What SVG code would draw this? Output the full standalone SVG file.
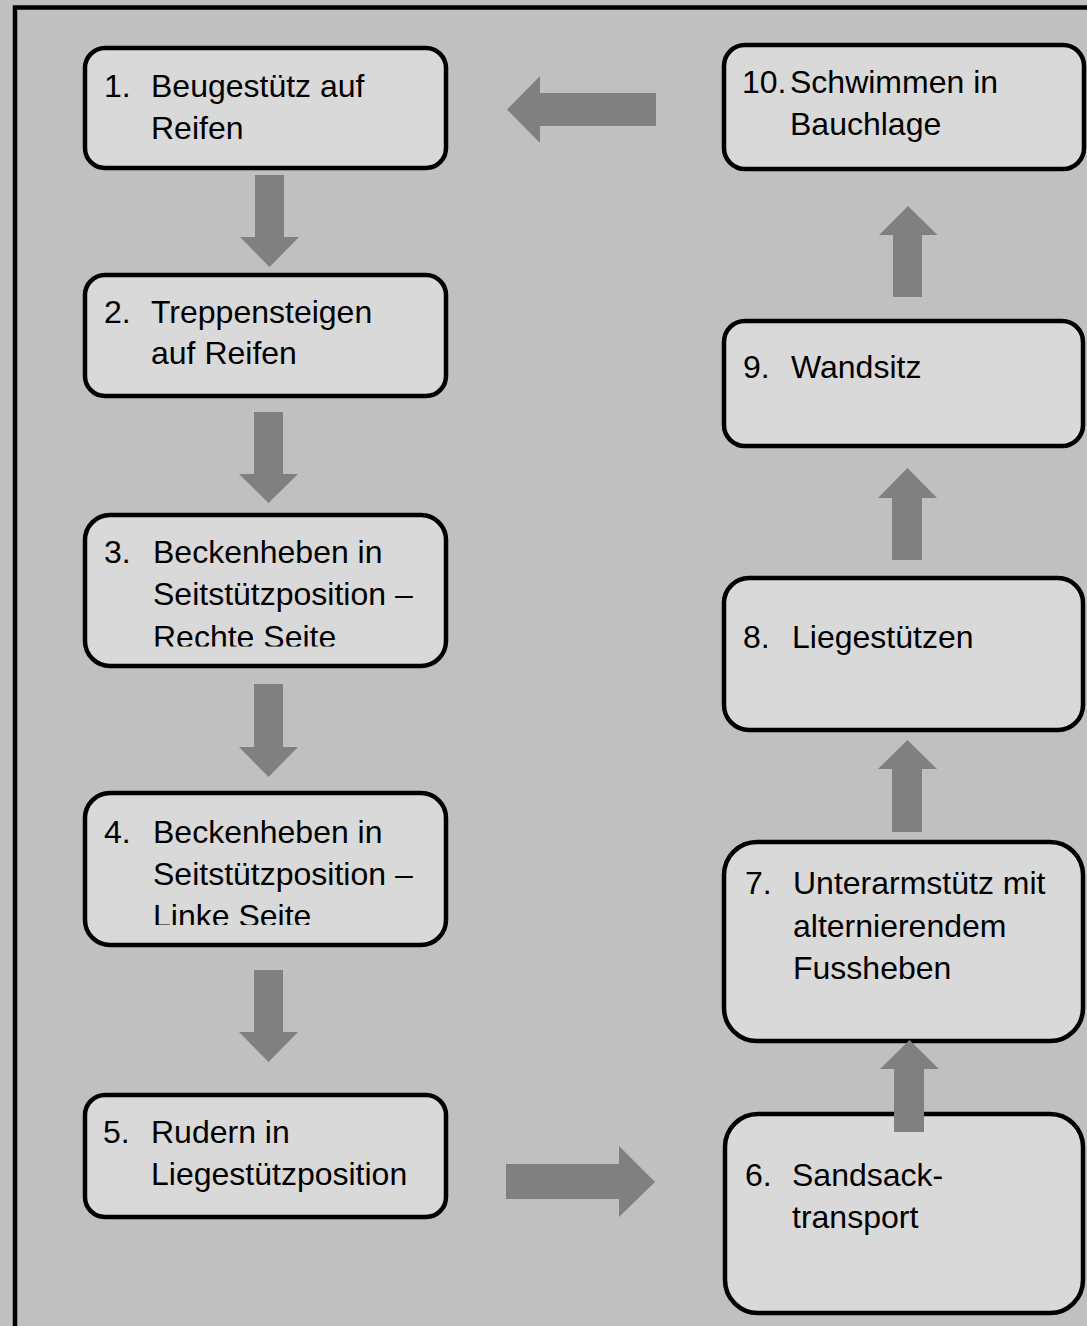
<svg xmlns="http://www.w3.org/2000/svg" width="1087" height="1326" viewBox="0 0 1087 1326">
<style>
.box{fill:#d9d9d9;stroke:#000;stroke-width:4.5}
.t{font-family:"Liberation Sans",Arial,sans-serif;font-size:32px;fill:#000}
.arr{fill:#808080}
</style>
<defs>
<clipPath id="c3"><rect x="80" y="510" width="370" height="136.5"/></clipPath>
<clipPath id="c4"><rect x="80" y="790" width="370" height="135"/></clipPath>
</defs>
<rect x="0" y="0" width="1087" height="1326" fill="#c0c0c0"/>
<rect x="15" y="7.5" width="1100" height="1350" fill="#c0c0c0" stroke="#000" stroke-width="4.5"/>
<g id="n1"><rect class="box" x="85" y="48" width="361" height="120" rx="20"/>
<text class="t" x="104" y="97">1.</text><text class="t" x="151" y="97">Beugestütz auf</text><text class="t" x="151" y="139">Reifen</text></g>
<g id="n2"><rect class="box" x="85" y="275" width="361" height="121" rx="20"/>
<text class="t" x="104" y="323">2.</text><text class="t" x="151" y="323">Treppensteigen</text><text class="t" x="151" y="364">auf Reifen</text></g>
<g id="n3"><rect class="box" x="85" y="515" width="361" height="151" rx="25"/>
<g clip-path="url(#c3)"><text class="t" x="104" y="563">3.</text><text class="t" x="153" y="563">Beckenheben in</text><text class="t" x="153" y="605">Seitstützposition –</text><text class="t" x="153" y="648">Rechte Seite</text></g></g>
<g id="n4"><rect class="box" x="85" y="793" width="361" height="152" rx="25"/>
<g clip-path="url(#c4)"><text class="t" x="104" y="843">4.</text><text class="t" x="153" y="843">Beckenheben in</text><text class="t" x="153" y="885">Seitstützposition –</text><text class="t" x="153" y="927">Linke Seite</text></g></g>
<g id="n5"><rect class="box" x="85" y="1095" width="361" height="122" rx="20"/>
<text class="t" x="103" y="1143">5.</text><text class="t" x="151" y="1143">Rudern in</text><text class="t" x="151" y="1185">Liegestützposition</text></g>
<g id="n6"><rect class="box" x="725" y="1114" width="358" height="199" rx="33"/>
<text class="t" x="745" y="1186">6.</text><text class="t" x="792" y="1186">Sandsack-</text><text class="t" x="792" y="1228">transport</text></g>
<g id="n7"><rect class="box" x="724" y="842" width="359" height="199" rx="33"/>
<text class="t" x="745" y="894">7.</text><text class="t" x="793" y="894">Unterarmstütz mit</text><text class="t" x="793" y="937">alternierendem</text><text class="t" x="793" y="979">Fussheben</text></g>
<g id="n8"><rect class="box" x="724" y="578" width="359" height="152" rx="25"/>
<text class="t" x="743" y="648">8.</text><text class="t" x="792" y="648">Liegestützen</text></g>
<g id="n9"><rect class="box" x="724" y="321" width="359" height="125" rx="21"/>
<text class="t" x="743" y="378">9.</text><text class="t" x="791" y="378">Wandsitz</text></g>
<g id="n10"><rect class="box" x="724" y="45" width="360" height="124" rx="21"/>
<text class="t" x="742" y="93">10.</text><text class="t" x="790" y="93">Schwimmen in</text><text class="t" x="790" y="135">Bauchlage</text></g>
<g id="connectors">
<polygon class="arr" points="255,175 284,175 284,237 299,237 269.5,267 240,237 255,237"/>
<polygon class="arr" points="254,412 283,412 283,474 298,474 268.5,503 239,474 254,474"/>
<polygon class="arr" points="254,684 283,684 283,747 298,747 268.5,777 239,747 254,747"/>
<polygon class="arr" points="254,970 283,970 283,1032 298,1032 268.5,1062 239,1032 254,1032"/>
<polygon class="arr" points="506,1164 619,1164 619,1146 655,1182 619,1217 619,1199 506,1199"/>
<polygon class="arr" points="894,1132 924,1132 924,1069 939,1069 909.5,1040 880,1069 894,1069"/>
<polygon class="arr" points="892,832 922,832 922,769 937,769 907.5,740 878,769 892,769"/>
<polygon class="arr" points="892,560 922,560 922,498 937,498 907.5,468 878,498 892,498"/>
<polygon class="arr" points="893,297 922,297 922,235 937.5,235 908,206 879,235 893,235"/>
<polygon class="arr" points="656,93 656,126 540,126 540,143 507,109.5 540,76 540,93"/>
</g>
</svg>
